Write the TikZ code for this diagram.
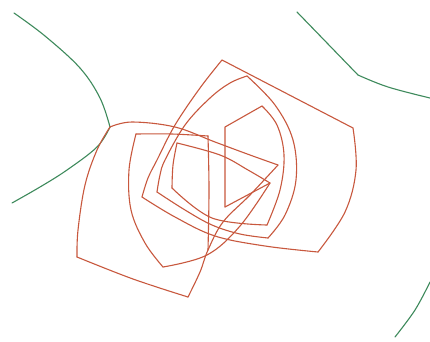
\documentclass[tikz,border=0pt]{standalone}
\usetikzlibrary{calc}
\definecolor{rline}{RGB}{200,88,62}
\definecolor{gline}{RGB}{62,138,92}
\tikzset{
  redline/.style={draw=rline, line width=1.1pt, line join=round, line cap=round},
  greenline/.style={draw=gline, line width=1.1pt, line join=round, line cap=round},
}
\begin{document}
\begin{tikzpicture}[x=1pt,y=-1pt]
\fill[white] (0,0) rectangle (430,341);
\useasboundingbox (0,0) rectangle (430,341);
% green curves
\draw[greenline] plot[smooth,tension=0.6] coordinates {(14,13) (45,36) (80,68) (100,98) (110,127)};
\draw[greenline] plot[smooth,tension=0.6] coordinates {(110,127) (97,147) (67,170) (40,187) (12,203)};
\draw[greenline] (297,12) -- (358,75);
\draw[greenline] plot[smooth,tension=0.6] coordinates {(358,75) (388,87) (430,98)};
\draw[greenline] plot[smooth,tension=0.6] coordinates {(395,337) (415,310) (430,282)};
% shape C
\draw[redline] (222,60) -- (353,128);
\draw[redline] plot[smooth,tension=0.6] coordinates {(353,128) (356,170) (345,212) (318,252)};
\draw[redline] plot[smooth,tension=0.6] coordinates {(318,252) (265,246) (215,236) (175,217) (142,197)};
\draw[redline] plot[smooth,tension=0.6] coordinates {(142,197) (148,178) (157,160) (175,125) (200,88) (222,60)};
% shape D
\draw[redline] plot[smooth,tension=0.6] coordinates {(247,76) (275,105) (293,140) (296,180) (285,215) (268,238)};
\draw[redline] plot[smooth,tension=0.6] coordinates {(268,238) (240,234) (212,225) (185,210) (157,192)};
\draw[redline] plot[smooth,tension=0.6] coordinates {(157,192) (160,175) (165,160) (185,125) (210,98) (230,83) (247,76)};
% shape A
\draw[redline] plot[smooth,tension=0.6] coordinates {(110,127) (132,122) (175,127) (215,142) (250,155) (278,165)};
\draw[redline] plot[smooth,tension=0.6] coordinates {(278,165) (250,195) (223,222) (208,250) (200,272) (188,297)};
\draw[redline] plot[smooth,tension=0.6] coordinates {(188,297) (133,279) (77,257)};
\draw[redline] plot[smooth,tension=0.6] coordinates {(77,257) (78,230) (85,185) (97,150) (110,127)};
% shape B
\draw[redline] plot[smooth,tension=0.6] coordinates {(136,134) (172,134) (208,136)};
\draw[redline] plot[smooth,tension=0.6] coordinates {(208,136) (209,190) (208,250)};
\draw[redline] plot[smooth,tension=0.6] coordinates {(136,134) (129,170) (131,210) (145,243) (163,267)};
\draw[redline] plot[smooth,tension=0.6] coordinates {(163,267) (207,255) (240,226) (270,183)};
% shape F
\draw[redline] plot[smooth,tension=0.6] coordinates {(177,143) (220,155) (248,170) (270,183)};
\draw[redline] plot[smooth,tension=0.6] coordinates {(177,143) (173,165) (172,188)};
\draw[redline] plot[smooth,tension=0.6] coordinates {(172,188) (212,218) (267,225)};
% shield
\draw[redline] (225,207) -- (225,127) -- (262,106);
\draw[redline] plot[smooth,tension=0.6] coordinates {(262,106) (277,125) (284,155) (280,190) (267,225)};
\draw[redline] (225,207) -- (270,183);
\end{tikzpicture}
\end{document}
